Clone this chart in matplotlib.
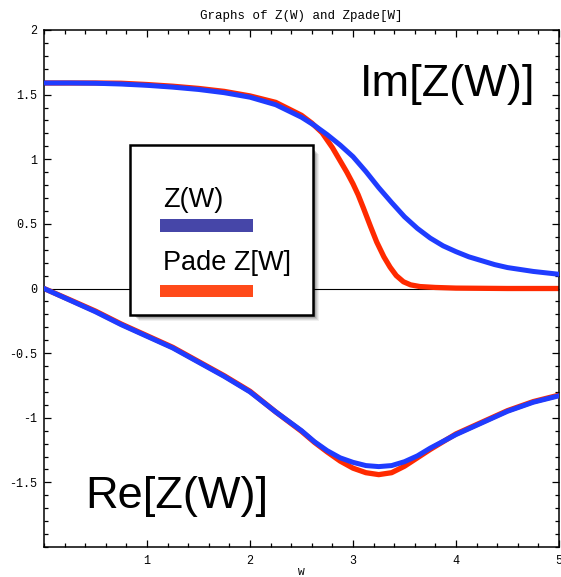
import numpy as np
import matplotlib
matplotlib.use("Agg")
import matplotlib.pyplot as plt
from matplotlib.patches import Rectangle
from matplotlib.ticker import MultipleLocator, FixedLocator

plt.rcParams['axes.unicode_minus'] = False

# ---- data ----
w_im_z = [0.0, 0.25, 0.5, 0.75, 1.0, 1.25, 1.5, 1.75, 2.0, 2.25, 2.5, 2.625,
          2.75, 2.875, 3.0, 3.125, 3.25, 3.375, 3.5, 3.625, 3.75, 3.875, 4.0,
          4.125, 4.25, 4.375, 4.5, 4.75, 5.0]
im_z = [1.590, 1.590, 1.588, 1.582, 1.572, 1.558, 1.540, 1.515, 1.480, 1.422,
        1.325, 1.262, 1.190, 1.110, 1.020, 0.905, 0.780, 0.665, 0.555, 0.465,
        0.390, 0.330, 0.285, 0.245, 0.215, 0.185, 0.162, 0.132, 0.110]

w_im_pade = [0.0, 0.25, 0.5, 0.75, 1.0, 1.25, 1.5, 1.75, 2.0, 2.25, 2.5, 2.6,
             2.7, 2.8, 2.87, 2.94, 3.0, 3.05, 3.1, 3.17, 3.23, 3.3, 3.36, 3.42,
             3.49, 3.56, 3.65, 3.8, 4.0, 4.5, 5.0]
im_pade = [1.590, 1.590, 1.590, 1.588, 1.578, 1.565, 1.548, 1.525, 1.490, 1.440,
           1.340, 1.280, 1.205, 1.090, 0.995, 0.900, 0.810, 0.725, 0.625, 0.480,
           0.360, 0.245, 0.165, 0.100, 0.052, 0.028, 0.015, 0.008, 0.003, 0.0, 0.0]

w_re = [0.0, 0.25, 0.5, 0.75, 1.0, 1.25, 1.5, 1.75, 2.0, 2.25, 2.5, 2.625,
        2.75, 2.875, 3.0, 3.125, 3.25, 3.375, 3.5, 3.625, 3.75, 4.0, 4.25,
        4.5, 4.75, 5.0]
re_z = [0.0, -0.09, -0.18, -0.28, -0.37, -0.46, -0.57, -0.68, -0.80, -0.955,
        -1.10, -1.185, -1.255, -1.31, -1.345, -1.37, -1.378, -1.37, -1.34,
        -1.295, -1.235, -1.13, -1.04, -0.95, -0.88, -0.83]
re_pade = [0.0, -0.087, -0.175, -0.275, -0.365, -0.455, -0.565, -0.675, -0.795,
           -0.955, -1.105, -1.19, -1.265, -1.335, -1.39, -1.425, -1.44, -1.425,
           -1.375, -1.31, -1.245, -1.125, -1.035, -0.945, -0.875, -0.825]

x_major = [1, 2, 3, 4, 5]
y_major = [-1.5, -1, -0.5, 0, 0.5, 1, 1.5, 2]
y_labels = ["-1.5", "-1", "-0.5", "0", "0.5", "1", "1.5", "2"]
legend_labels = ["Z(W)", "Pade Z[W]"]

BLUE = "#1f3cff"
RED = "#ff2a00"
W, H = 561, 577

fig = plt.figure(figsize=(W / 100, H / 100), dpi=100)
ax = fig.add_axes([44 / W, 1 - 547 / H, (559 - 44) / W, (547 - 30) / H])
ax.set_xlim(0, 5)
ax.set_ylim(-2, 2)

ax.axhline(0, color="black", lw=0.8, zorder=1)
ax.plot(w_im_pade, im_pade, color=RED, lw=3.8, zorder=2, solid_joinstyle="round")
ax.plot(w_re, re_pade, color=RED, lw=3.8, zorder=2, solid_joinstyle="round")
ax.plot(w_im_z, im_z, color=BLUE, lw=3.6, zorder=3, solid_joinstyle="round")
ax.plot(w_re, re_z, color=BLUE, lw=3.6, zorder=3, solid_joinstyle="round")

mono = "Liberation Mono"
ax.xaxis.set_major_locator(FixedLocator(x_major))
ax.xaxis.set_minor_locator(MultipleLocator(0.2))
ax.yaxis.set_major_locator(FixedLocator(y_major))
ax.yaxis.set_minor_locator(MultipleLocator(0.1))
ax.set_xticklabels([str(v) for v in x_major], fontfamily=mono, fontsize=8.5)
ax.set_yticklabels(y_labels, fontfamily=mono, fontsize=8.5)
ax.tick_params(which="both", direction="in", top=True, right=True, width=0.9)
ax.tick_params(which="major", length=5)
ax.tick_params(axis="y", which="major", pad=5)
ax.tick_params(axis="x", which="major", pad=6)
ax.tick_params(which="minor", length=3)
for s in ax.spines.values():
    s.set_linewidth(1.1)

ax.set_title("Graphs of Z(W) and Zpade[W]", fontfamily=mono, fontsize=9, pad=8)
ax.set_xlabel("W", fontfamily=mono, fontsize=8, labelpad=0)

# big labels
ax.text(360 / W, 1 - 96 / H, "Im[Z(W)]", transform=fig.transFigure,
        fontfamily="Liberation Sans", fontsize=32.5, va="baseline", ha="left", zorder=5)
ax.text(85 / W, 1 - 508 / H, "Re[Z(W)]", transform=fig.transFigure,
        fontfamily="Liberation Sans", fontsize=32.5, va="baseline", ha="left", zorder=5)

# legend box with shadow
def fbox(x0, y0, x1, y1, **kw):
    return Rectangle((x0 / W, 1 - y1 / H), (x1 - x0) / W, (y1 - y0) / H,
                     transform=fig.transFigure, **kw)

for i, a in enumerate([0.06, 0.08, 0.10, 0.14, 0.18]):
    d = 6 - i
    fig.patches.append(fbox(130 + d + 3, 145 + d + 3, 313 + d, 315 + d,
                            facecolor="black", edgecolor="none", alpha=a, zorder=6))
fig.patches.append(fbox(130, 145, 313, 315, facecolor="white",
                        edgecolor="black", lw=1.8, zorder=7))
fig.patches.append(fbox(160, 219, 253, 232, facecolor="#4646a8",
                        edgecolor="none", zorder=8))
fig.patches.append(fbox(160, 285, 253, 297, facecolor="#ff4a1a",
                        edgecolor="none", zorder=8))
fig.text(163 / W, 1 - 207 / H, legend_labels[0], fontfamily="Liberation Sans",
         fontsize=19.5, va="baseline", ha="left", zorder=9)
fig.text(163 / W, 1 - 270 / H, legend_labels[1], fontfamily="Liberation Sans",
         fontsize=19.5, va="baseline", ha="left", zorder=9)

fig.savefig("out.png", dpi=100)
